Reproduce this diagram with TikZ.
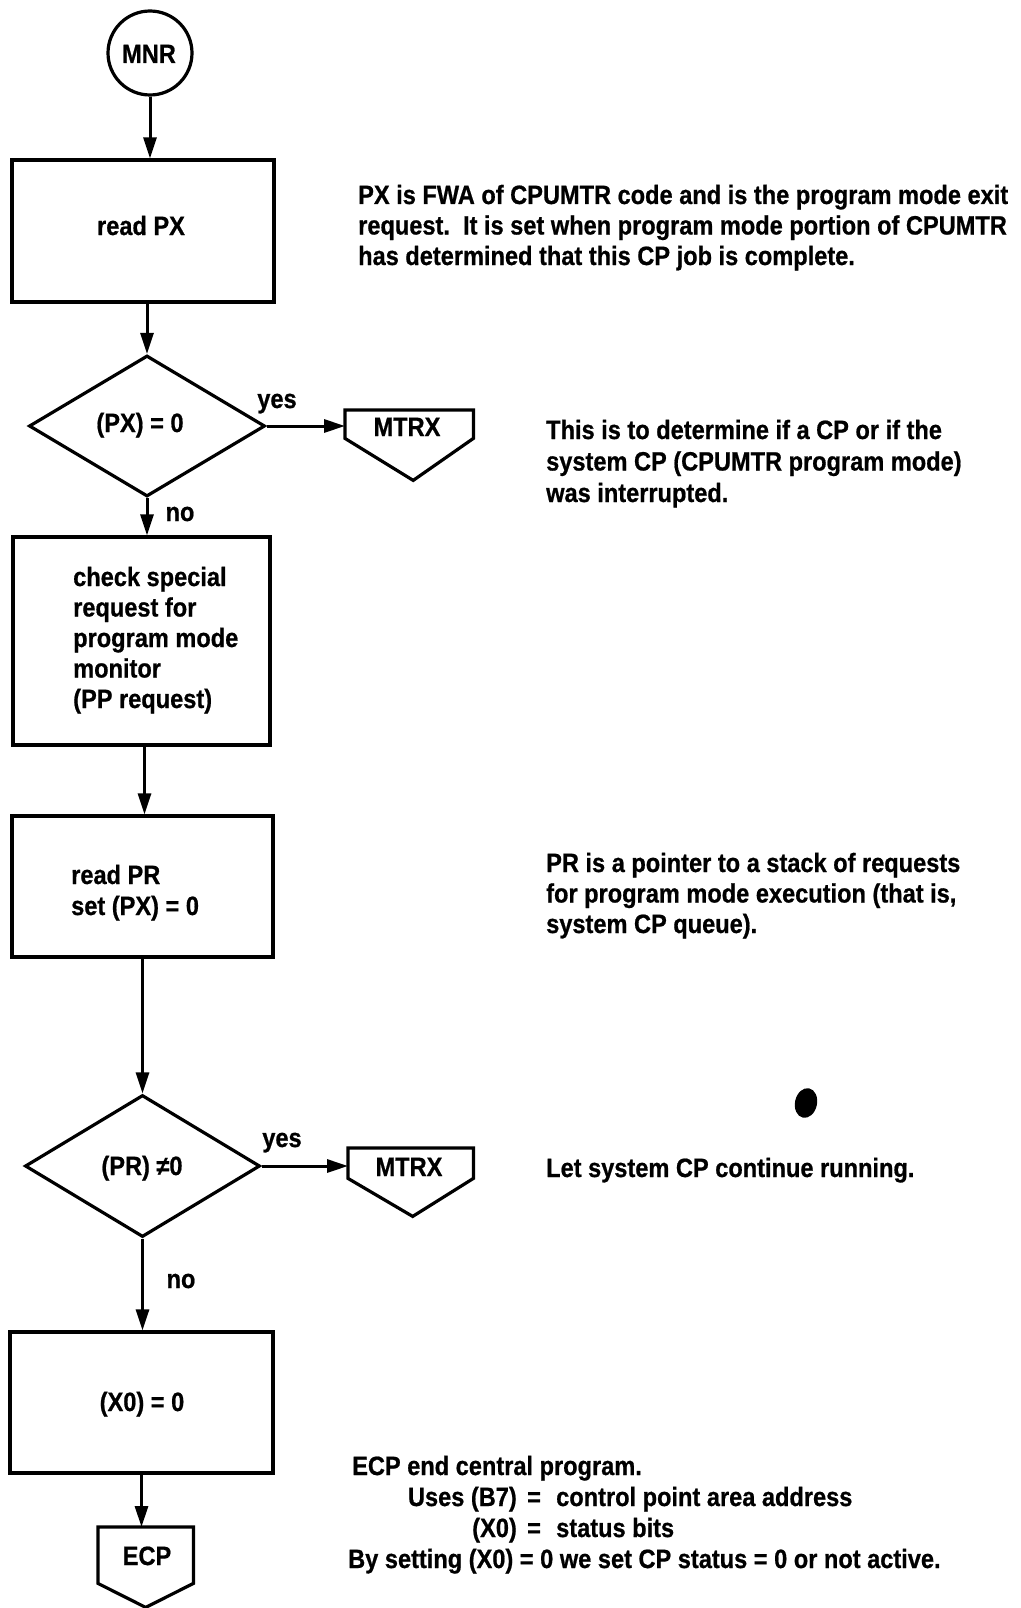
\documentclass[tikz,border=0pt]{standalone}
\usepackage{fontspec}
\setmainfont{Liberation Sans}[UprightFont=* Bold, FakeStretch=0.89, FakeBold=0.7]
\usetikzlibrary{arrows.meta,shapes.geometric,calc}

\tikzset{
  stroke/.style={draw, line width=3.2pt, line join=miter},
  flow/.style={line width=3pt, -{Triangle[length=21pt,width=13pt]}},
  boxnode/.style={stroke, rectangle, inner sep=0pt},
  decision/.style={stroke, diamond, inner sep=0pt},
  frame/.style={rectangle, inner sep=0pt},
  lbl/.style={inner sep=0pt, anchor=base},
  lbll/.style={inner sep=0pt, anchor=base west},
  lblr/.style={inner sep=0pt, anchor=base east},
}

\begin{document}
\begin{tikzpicture}[x=1pt, y=-1pt, font=\fontsize{26.5}{30}\selectfont]
  % page frame
  \useasboundingbox (0,0) rectangle (1020,1608);
  \fill[white] (0,0) rectangle (1020,1608);

  % ---- start terminal ----
  \node[stroke, circle, minimum size=84pt, inner sep=0pt] (mnr) at (150,53) {};
  \node[lbl] (mnrt) at (149,63) {MNR};

  % ---- read PX ----
  \node[boxnode, minimum width=262pt, minimum height=142pt] (b1) at (143,231) {};
  \node[lbl] (b1t) at (141,235) {read PX};

  % ---- (PX) = 0 ----
  \node[decision, minimum width=236pt, minimum height=141pt] (d1) at (147,426) {};
  \node[lbl] (d1t) at (140,432) {(PX) = 0};

  % exit MTRX (first)
  \node[frame, minimum width=128pt, minimum height=28pt, anchor=north west] (m1) at (345,410) {};
  \draw[stroke] (m1.south west) -- (m1.north west) -- (m1.north east)
        -- (m1.south east) -- ($(m1.south)+(4,42)$) -- cycle;
  \node[lbl] (m1t) at (407,436) {MTRX};

  % ---- check special request ----
  \node[boxnode, minimum width=257pt, minimum height=208pt] (b2) at (141.5,641) {};
  \node[lbll] (b2a) at (73,586) {check special};
  \node[lbll] (b2b) at (73,616.5) {request for};
  \node[lbll] (b2c) at (73,647) {program mode};
  \node[lbll] (b2d) at (73,677.5) {monitor};
  \node[lbll] (b2e) at (73,708) {(PP request)};

  % ---- read PR ----
  \node[boxnode, minimum width=261pt, minimum height=141pt] (b3) at (142.5,886.5) {};
  \node[lbll] (b3a) at (71,884) {read PR};
  \node[lbll] (b3b) at (71,915) {set (PX) = 0};

  % ---- (PR) /= 0 ----
  \node[decision, minimum width=235pt, minimum height=142pt] (d2) at (142.5,1166) {};
  \node[lbl] (d2t) at (142,1175) {(PR) ≠0};

  % exit MTRX (second)
  \node[frame, minimum width=125pt, minimum height=30pt, anchor=north west] (m2) at (348,1148) {};
  \draw[stroke] (m2.south west) -- (m2.north west) -- (m2.north east)
        -- (m2.south east) -- ($(m2.south)+(2,38)$) -- cycle;
  \node[lbl] (m2t) at (409,1176) {MTRX};

  % ---- (X0) = 0 ----
  \node[boxnode, minimum width=263pt, minimum height=141pt] (b4) at (141.5,1402.5) {};
  \node[lbl] (b4t) at (142,1411) {(X0) = 0};

  % exit ECP
  \node[frame, minimum width=95pt, minimum height=56pt, anchor=north west] (e1) at (98,1527) {};
  \draw[stroke] (e1.south west) -- (e1.north west) -- (e1.north east)
        -- (e1.south east) -- ($(e1.south)+(0,24)$) -- cycle;
  \node[lbl] (e1t) at (147,1565) {ECP};

  % ---- connectors ----
  \draw[flow] (mnr.south) -- (mnr.south |- b1.north);
  \draw[flow] (b1.south -| d1.north) -- (d1.north);
  \draw[flow] (d1.east) -- (d1.east -| m1.west);
  \draw[flow] (d1.south) -- (d1.south |- b2.north);
  \draw[flow] ($(b2.south)+(3,0)$) -- ($(b3.north)+(2,0)$);
  \draw[flow] (b3.south) -- (b3.south |- d2.north);
  \draw[flow] (d2.east) -- (d2.east -| m2.west);
  \draw[flow] (d2.south) -- (d2.south |- b4.north);
  \draw[flow] (b4.south) -- (b4.south |- e1.north);

  % branch labels
  \node[lbl] (y1) at (277,408) {yes};
  \node[lbl] (n1) at (180,521) {no};
  \node[lbl] (y2) at (282,1147) {yes};
  \node[lbl] (n2) at (181,1288) {no};

  % ---- comments on the right ----
  \node[lbll] (pxa) at (358,204) {PX is FWA of CPUMTR code and is the program mode exit};
  \node[lbll] (pxb) at (358,234.5) {request.\ \ It is set when program mode portion of CPUMTR};
  \node[lbll] (pxc) at (358,265) {has determined that this CP job is complete.};

  \node[lbll] (cpa) at (546,439) {This is to determine if a CP or if the};
  \node[lbll] (cpb) at (546,470.5) {system CP (CPUMTR program mode)};
  \node[lbll] (cpc) at (546,502) {was interrupted.};

  \node[lbll] (pra) at (546,872) {PR is a pointer to a stack of requests};
  \node[lbll] (prb) at (546,902.5) {for program mode execution (that is,};
  \node[lbll] (prc) at (546,933) {system CP queue).};

  \fill[rotate around={-12:(806,1103)}] (806,1103) ellipse [x radius=11, y radius=15];

  \node[lbll] (let) at (546,1177) {Let system CP continue running.};

  \node[lbll] (eca) at (352,1475) {ECP end central program.};
  \node[lblr] (ecb1) at (517,1506) {Uses (B7)};
  \node[lbl]  (ecb2) at (534,1506) {=};
  \node[lbll] (ecb3) at (556,1506) {control point area address};
  \node[lblr] (ecc1) at (517,1537) {(X0)};
  \node[lbl]  (ecc2) at (534,1537) {=};
  \node[lbll] (ecc3) at (556,1537) {status bits};
  \node[lbll] (ecd) at (348,1568) {By setting (X0) = 0 we set CP status = 0 or not active.};
\end{tikzpicture}
\end{document}
